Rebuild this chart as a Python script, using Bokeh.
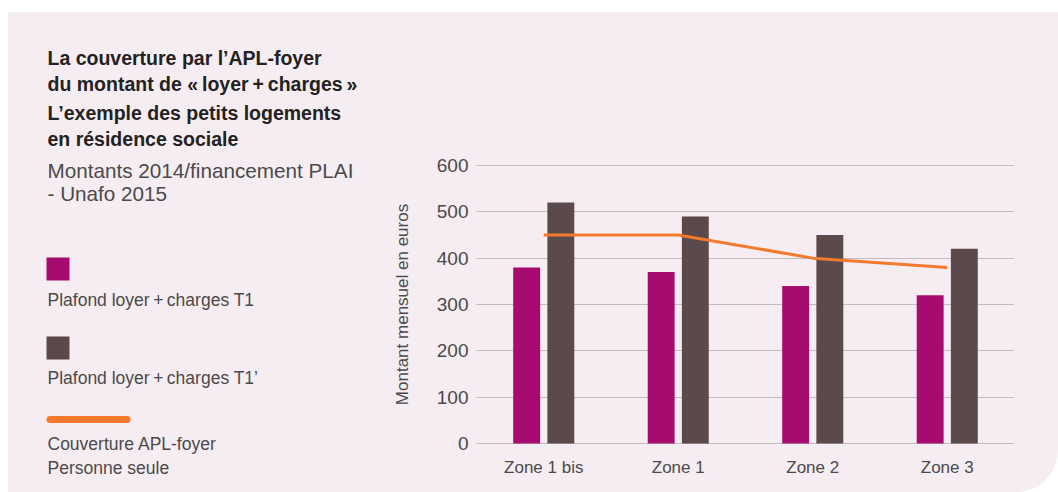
from bokeh.plotting import figure
from bokeh.models import Range1d, FactorRange, Spacer, ColumnDataSource, FixedTicker
from bokeh.layouts import row, column
from bokeh.transform import dodge
from bokeh.core.properties import value
from bokeh.embed import file_html
from bokeh.resources import INLINE

# ---- data ----
zones = ["Zone 1 bis", "Zone 1", "Zone 2", "Zone 3"]
plafond_t1 = [380, 370, 340, 320]
plafond_t1_prime = [520, 490, 450, 420]
apl_foyer = [450, 450, 400, 380]
y_ticks = [0, 100, 200, 300, 400, 500, 600]

title_lines = ["La couverture par l\u2019APL-foyer",
               "du montant de \u00ab\u2009loyer\u2009+\u2009charges\u2009\u00bb",
               "L\u2019exemple des petits logements",
               "en r\u00e9sidence sociale"]
subtitle_lines = ["Montants 2014/financement PLAI", "- Unafo 2015"]
legend_t1 = "Plafond loyer\u2009+\u2009charges T1"
legend_t1p = "Plafond loyer\u2009+\u2009charges T1\u2019"
legend_apl = ["Couverture APL-foyer", "Personne seule"]
y_label = "Montant mensuel en euros"

# ---- styles ----
BG = "#F6EDF2"
MAGENTA = "#A70B6F"
BROWN = "#5B4A4B"
ORANGE = "#F37A2C"
TXT = "#4A4A4A"
TITLE = "#222222"
FONT = "Liberation Sans"

# ---- left panel (title + legend) ----
lf = figure(width=380, height=480, x_range=Range1d(0, 380), y_range=Range1d(480, 0),
            min_border=0, toolbar_location=None, output_backend="svg",
            background_fill_color=BG, border_fill_color=BG, outline_line_color=None)
lf.axis.visible = False
lf.grid.visible = False

lf.text(x=[39] * 4, y=[45, 71, 100, 126], text=title_lines,
        text_font=value(FONT), text_font_style="bold", text_font_size="19.5px",
        text_color=TITLE, text_baseline="alphabetic")
lf.text(x=[39] * 2, y=[158, 181], text=subtitle_lines,
        text_font=value(FONT), text_font_size="20.7px",
        text_color=TXT, text_baseline="alphabetic")

lf.rect(x=[49.5, 49.5], y=[256.5, 335.5], width=23, height=23,
        fill_color=[MAGENTA, BROWN], line_color=None)
lf.line(x=[41.5, 118.5], y=[407, 407], line_color=ORANGE, line_width=7, line_cap="round")
lf.text(x=[39, 39, 39, 39], y=[287, 365, 431, 455],
        text=[legend_t1, legend_t1p] + legend_apl,
        text_font=value(FONT), text_font_size="17.5px",
        text_color=TXT, text_baseline="alphabetic")

# ---- chart ----
src = ColumnDataSource(dict(zone=zones, t1=plafond_t1, t1p=plafond_t1_prime, apl=apl_foyer))

p = figure(x_range=FactorRange(factors=zones, range_padding=0), y_range=Range1d(-2, 602),
           width=670, height=480, min_border_left=88, min_border_right=44,
           min_border_top=152, min_border_bottom=48,
           output_backend="svg", toolbar_location=None,
           background_fill_color=BG, border_fill_color=BG, outline_line_color=None)

p.vbar(x=dodge("zone", -0.127, range=p.x_range), top="t1", bottom=0, width=0.2,
       source=src, fill_color=MAGENTA, line_color=None)
p.vbar(x=dodge("zone", 0.127, range=p.x_range), top="t1p", bottom=0, width=0.2,
       source=src, fill_color=BROWN, line_color=None)
p.line(x="zone", y="apl", source=src, line_color=ORANGE, line_width=3)

p.xgrid.grid_line_color = None
p.ygrid.grid_line_color = "#8C8C8C"
p.ygrid.grid_line_dash = "1 1"
p.ygrid.grid_line_width = 1

for ax in (p.xaxis[0], p.yaxis[0]):
    ax.axis_line_color = None
    ax.major_tick_line_color = None
    ax.minor_tick_line_color = None
    ax.major_tick_out = 0
    ax.major_tick_in = 0
    ax.minor_tick_out = 0
    ax.minor_tick_in = 0
    ax.major_label_text_font = FONT
    ax.major_label_text_color = TXT

p.xaxis.major_label_text_font_size = "17px"
p.xaxis.major_label_standoff = 13
p.yaxis.ticker = FixedTicker(ticks=y_ticks)
p.yaxis.major_label_text_font_size = "19px"
p.yaxis.major_label_standoff = 8
p.yaxis.axis_label = y_label
p.yaxis.axis_label_text_font = FONT
p.yaxis.axis_label_text_font_size = "17px"
p.yaxis.axis_label_text_font_style = "normal"
p.yaxis.axis_label_text_color = TXT
p.yaxis.axis_label_standoff = 22

for fig in (lf, p):
    try:
        fig.frame_align = False
    except AttributeError:
        pass

panel = row(lf, p, styles={"background-color": BG,
                           "border-bottom-right-radius": "42px",
                           "overflow": "hidden"})
layout = column(Spacer(width=1058, height=12),
                row(Spacer(width=8, height=480), panel))
open("out.html", "w").write(file_html(layout, INLINE))
